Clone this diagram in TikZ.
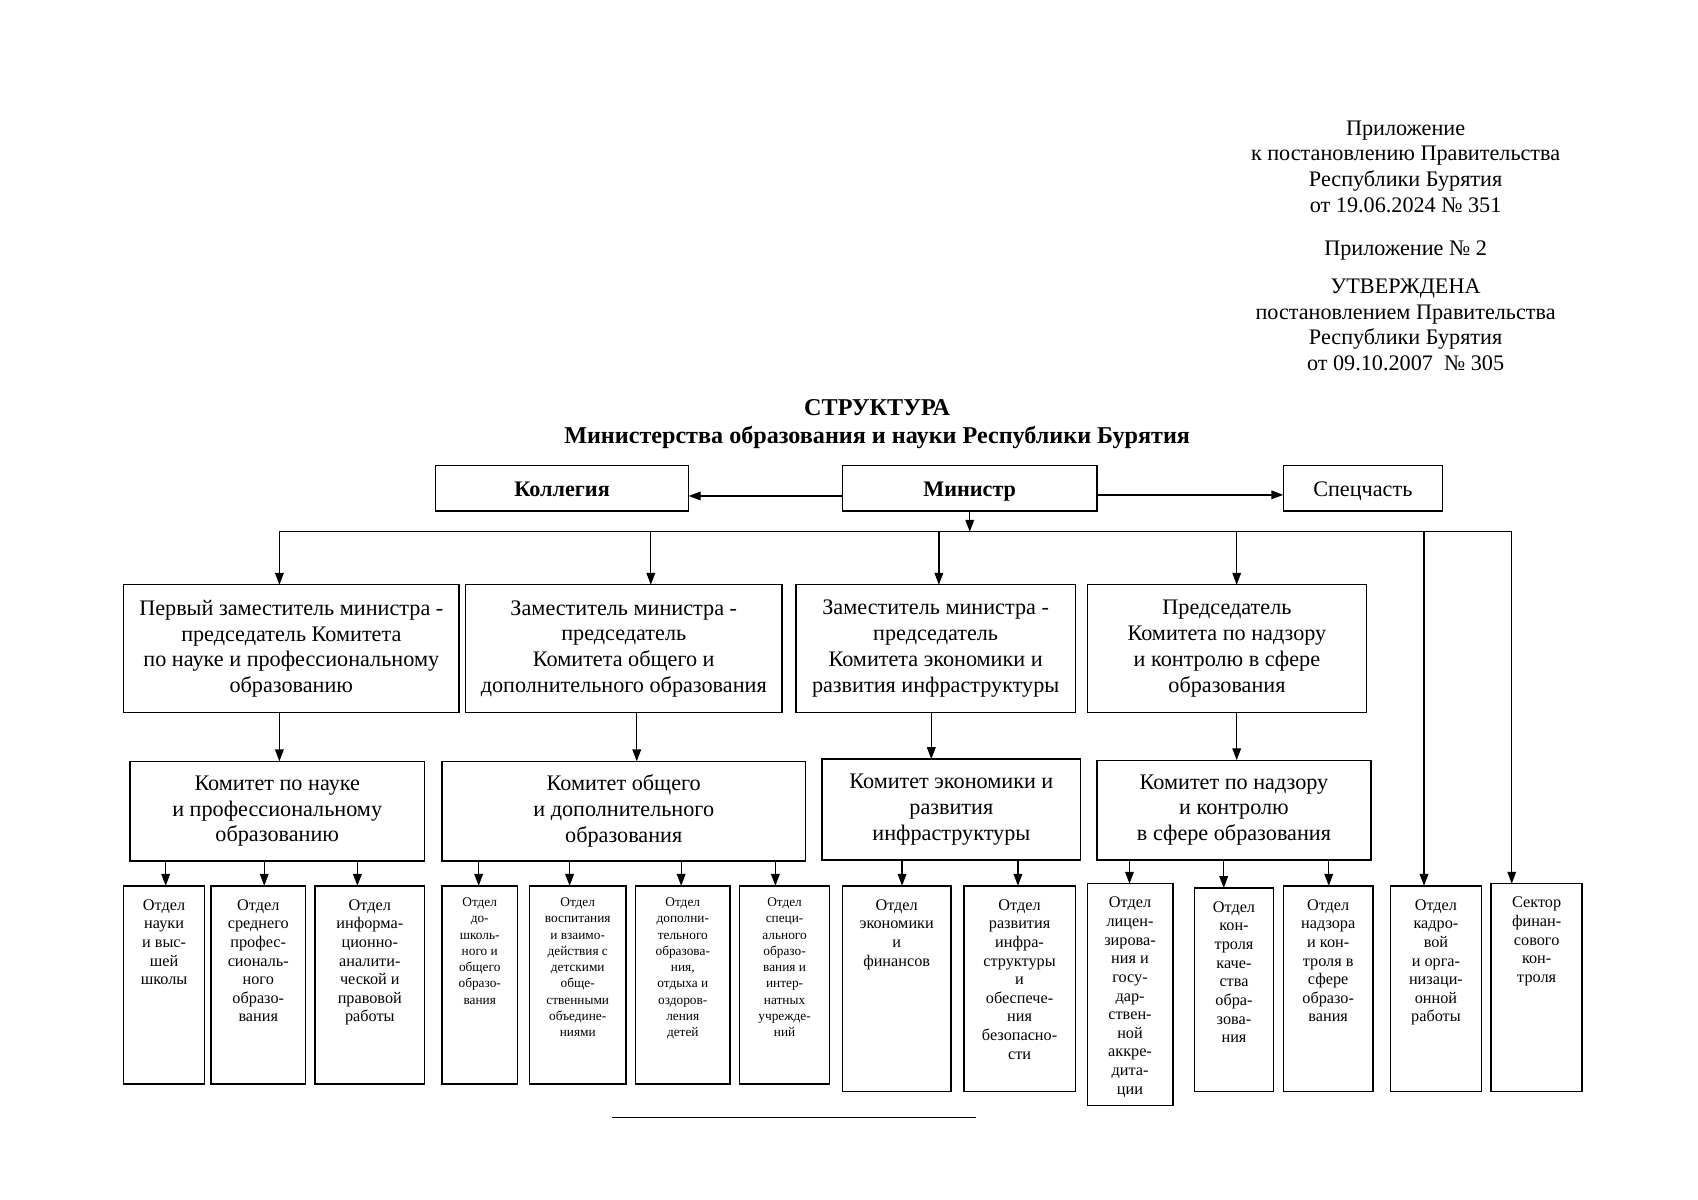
\documentclass[tikz,border=0pt]{standalone}
\usepackage{fontspec}
\setmainfont{Liberation Serif}
\usetikzlibrary{arrows.meta}
\begin{document}
\begin{tikzpicture}[x=1pt,y=-1pt,
  every node/.style={inner sep=0pt, outer sep=0pt},
  box/.style={draw, line width=1.3pt, align=center},
  big/.style={font=\fontsize{20.5}{23.8}\selectfont, align=center},
  bigb/.style={font=\bfseries\fontsize{20.5}{24}\selectfont, align=center},
  toprow/.style={text height=18pt, text depth=3pt},
  dA/.style={font=\fontsize{15}{17.2}\selectfont, align=center, anchor=north},
  dB/.style={font=\fontsize{12.3}{15}\selectfont, align=center, anchor=north},
  arr/.style={line width=1.2pt, -{Triangle[length=11pt,width=8pt]}},
  ln/.style={line width=1.2pt}]
\useasboundingbox (0,0) rectangle (1568,1108);
% header
\node[big] (h1) at (1298,154) {Приложение\\к постановлению Правительства\\Республики Бурятия\\от 19.06.2024 № 351};
\node[big] (h2) at (1298,231) {Приложение № 2};
\node[big] (h3) at (1298,300) {УТВЕРЖДЕНА\\постановлением Правительства\\Республики Бурятия\\от 09.10.2007~ № 305};
\node[font=\bfseries\fontsize{22.3}{26}\selectfont, align=center] (title) at (810,392) {СТРУКТУРА\\Министерства образования и науки Республики Бурятия};
% top row
\node[box, bigb, toprow, minimum width=234pt, minimum height=42pt] (kol) at (519,451) {Коллегия};
\node[box, bigb, toprow, minimum width=235pt, minimum height=42pt] (min) at (895.5,451) {Министр};
\node[box, big, toprow, minimum width=147pt, minimum height=42pt] (spec) at (1258.5,451) {Спецчасть};
% level 2
\node[box, big, minimum width=310pt, minimum height=118pt] (b1) at (269,599) {Первый заместитель министра -\\председатель Комитета\\по науке и профессиональному\\образованию};
\node[box, big, minimum width=292pt, minimum height=118pt] (b2) at (576,599) {Заместитель министра -\\председатель\\Комитета общего и\\дополнительного образования};
\node[box, big, minimum width=258pt, minimum height=118pt] (b3) at (864,599) {Заместитель министра -\\председатель\\Комитета экономики и\\развития инфраструктуры};
\node[box, big, minimum width=258pt, minimum height=118pt] (b4) at (1133,599) {Председатель\\Комитета по надзору\\и контролю в сфере\\образования};
% committees
\node[box, big, minimum width=272pt, minimum height=92pt] (c1) at (256,749) {Комитет по науке\\и профессиональному\\образованию};
\node[box, big, minimum width=336pt, minimum height=92pt] (c2) at (576,749) {Комитет общего\\и дополнительного\\образования};
\node[box, big, minimum width=239pt, minimum height=93pt] (c3) at (878.5,747.5) {Комитет экономики и\\развития\\инфраструктуры};
\node[box, big, minimum width=253pt, minimum height=92pt] (c4) at (1139.5,748) {Комитет по надзору\\и контролю\\в сфере образования};
% departments
\node[box, minimum width=75pt, minimum height=183pt] (d1) at (151.5,909.5) {};
\node[dA] (d1t) at ([yshift=-12.5pt]d1.north) {Отдел\\науки\\и выс-\\шей\\школы};
\node[box, minimum width=87pt, minimum height=183pt] (d2) at (238.5,909.5) {};
\node[dA] (d2t) at ([yshift=-12.5pt]d2.north) {Отдел\\среднего\\профес-\\сиональ-\\ного\\образо-\\вания};
\node[box, minimum width=101pt, minimum height=183pt] (d3) at (341.5,909.5) {};
\node[dA] (d3t) at ([yshift=-12.5pt]d3.north) {Отдел\\информа-\\ционно-\\аналити-\\ческой и\\правовой\\работы};
\node[box, minimum width=70pt, minimum height=183pt] (d4) at (443,909.5) {};
\node[dB] (d4t) at ([yshift=-11pt]d4.north) {Отдел\\до-\\школь-\\ного и\\общего\\образо-\\вания};
\node[box, minimum width=89pt, minimum height=183pt] (d5) at (533.5,909.5) {};
\node[dB] (d5t) at ([yshift=-11pt]d5.north) {Отдел\\воспитания\\и взаимо-\\действия с\\детскими\\обще-\\ственными\\объедине-\\ниями};
\node[box, minimum width=87pt, minimum height=183pt] (d6) at (630.5,909.5) {};
\node[dB] (d6t) at ([yshift=-11pt]d6.north) {Отдел\\дополни-\\тельного\\образова-\\ния,\\отдыха и\\оздоров-\\ления\\детей};
\node[box, minimum width=83pt, minimum height=183pt] (d7) at (724.5,909.5) {};
\node[dB] (d7t) at ([yshift=-11pt]d7.north) {Отдел\\специ-\\ального\\образо-\\вания и\\интер-\\натных\\учрежде-\\ний};
\node[box, minimum width=100pt, minimum height=190pt] (d8) at (828,913) {};
\node[dA] (d8t) at ([yshift=-12.5pt]d8.north) {Отдел\\экономики\\и\\финансов};
\node[box, minimum width=103pt, minimum height=190pt] (d9) at (941.5,913) {};
\node[dA] (d9t) at ([yshift=-12.5pt]d9.north) {Отдел\\развития\\инфра-\\структуры\\и\\обеспече-\\ния\\безопасно-\\сти};
\node[box, minimum width=79pt, minimum height=205pt] (d10) at (1043.5,918.5) {};
\node[dA] (d10t) at ([yshift=-12.5pt]d10.north) {Отдел\\лицен-\\зирова-\\ния и\\госу-\\дар-\\ствен-\\ной\\аккре-\\дита-\\ции};
\node[box, minimum width=73pt, minimum height=188pt] (d11) at (1139.5,914) {};
\node[dA] (d11t) at ([yshift=-12.5pt]d11.north) {Отдел\\кон-\\троля\\каче-\\ства\\обра-\\зова-\\ния};
\node[box, minimum width=83pt, minimum height=190pt] (d12) at (1226.5,913) {};
\node[dA] (d12t) at ([yshift=-12.5pt]d12.north) {Отдел\\надзора\\и кон-\\троля в\\сфере\\образо-\\вания};
\node[box, minimum width=84pt, minimum height=190pt] (d13) at (1326,913) {};
\node[dA] (d13t) at ([yshift=-12.5pt]d13.north) {Отдел\\кадро-\\вой\\и орга-\\низаци-\\онной\\работы};
\node[box, minimum width=84pt, minimum height=192pt] (d14) at (1419,912) {};
\node[dA] (d14t) at ([yshift=-12.5pt]d14.north) {Сектор\\финан-\\сового\\кон-\\троля};
% connectors top
\draw[arr] ([yshift=-7pt]min.west) -- ([yshift=-7pt]kol.east);
\draw[arr] ([yshift=-6pt]min.east) -- ([yshift=-6pt]spec.west);
\coordinate (busL) at (258,491);
\coordinate (busR) at (1396,491);
\draw[ln] (busL) -- (busR);
\draw[arr] (min.south) -- (min.south |- busL);
\draw[arr] (busL) -- (busL |- b1.north);
\draw[arr] ([xshift=25pt]b2.north |- busL) -- ([xshift=25pt]b2.north);
\draw[arr] ([xshift=3pt]b3.north |- busL) -- ([xshift=3pt]b3.north);
\draw[arr] ([xshift=9pt]b4.north |- busL) -- ([xshift=9pt]b4.north);
\draw[arr] ([xshift=-11pt]d13.north |- busL) -- ([xshift=-11pt]d13.north);
\draw[arr] (busR) -- (busR |- d14.north);
% level 2 -> committees
\draw[arr] ([xshift=2pt]c1.north |- b1.south) -- ([xshift=2pt]c1.north);
\draw[arr] ([xshift=12pt]c2.north |- b2.south) -- ([xshift=12pt]c2.north);
\draw[arr] ([xshift=-18.5pt]c3.north |- b3.south) -- ([xshift=-18.5pt]c3.north);
\draw[arr] ([xshift=2.5pt]c4.north |- b4.south) -- ([xshift=2.5pt]c4.north);
% committees -> departments
\draw[arr] ([xshift=1.5pt]d1.north |- c1.south) -- ([xshift=1.5pt]d1.north);
\draw[arr] ([xshift=5.5pt]d2.north |- c1.south) -- ([xshift=5.5pt]d2.north);
\draw[arr] ([xshift=-11.5pt]d3.north |- c1.south) -- ([xshift=-11.5pt]d3.north);
\draw[arr] ([xshift=-1pt]d4.north |- c2.south) -- ([xshift=-1pt]d4.north);
\draw[arr] ([xshift=-7.5pt]d5.north |- c2.south) -- ([xshift=-7.5pt]d5.north);
\draw[arr] ([xshift=-1.5pt]d6.north |- c2.south) -- ([xshift=-1.5pt]d6.north);
\draw[arr] ([xshift=-8.5pt]d7.north |- c2.south) -- ([xshift=-8.5pt]d7.north);
\draw[arr] ([xshift=5pt]d8.north |- c3.south) -- ([xshift=5pt]d8.north);
\draw[arr] ([xshift=-1.5pt]d9.north |- c3.south) -- ([xshift=-1.5pt]d9.north);
\draw[arr] ([xshift=-0.5pt]d10.north |- c4.south) -- ([xshift=-0.5pt]d10.north);
\draw[arr] ([xshift=-9.5pt]d11.north |- c4.south) -- ([xshift=-9.5pt]d11.north);
\draw[arr] ([xshift=0.5pt]d12.north |- c4.south) -- ([xshift=0.5pt]d12.north);
% footer line
\coordinate (f1) at (565,1032);
\coordinate (f2) at (901,1032);
\draw[ln] (f1) -- (f2);
\end{tikzpicture}
\end{document}
